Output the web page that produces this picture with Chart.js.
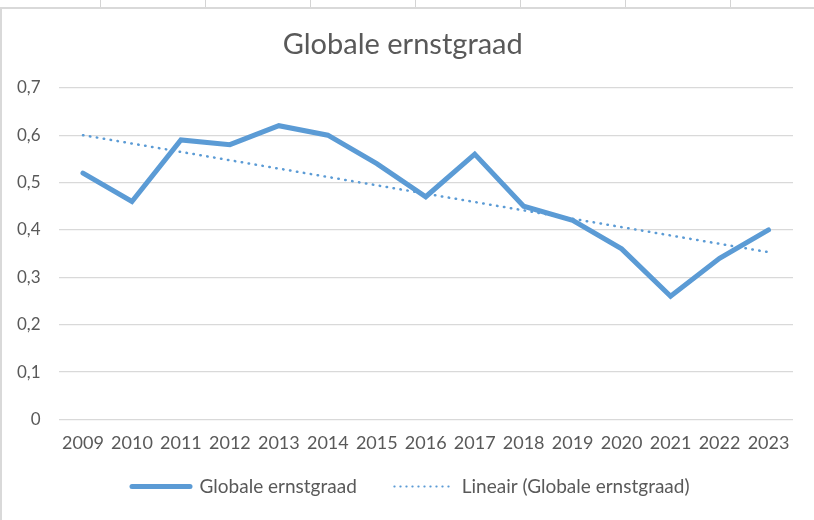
<!DOCTYPE html>
<html>
<head>
<meta charset="utf-8">
<script src="https://cdn.jsdelivr.net/npm/chart.js@4/dist/chart.umd.min.js"></script>
<style>
  html, body { margin: 0; padding: 0; background: #fff; }
  #cells { position: absolute; left: 0; top: 0; width: 814px; height: 8px;
    background: repeating-linear-gradient(90deg, #fff 0, #fff 104px, #d4d4d4 104px, #d4d4d4 105px); background-position: -4px 0; }
  #frame { position: absolute; left: 0; top: 7px; width: 812px; height: 513px;
    border-left: 2px solid #d9d9d9; border-top: 2px solid #d9d9d9; }
</style>
</head>
<body>
<div id="cells"></div>
<div id="frame"><canvas id="ernstgraad_chart" width="812" height="511"></canvas></div>
<script>
// Globale ernstgraad per jaar
const jaren = ['2009', '2010', '2011', '2012', '2013', '2014', '2015', '2016', '2017', '2018', '2019', '2020', '2021', '2022', '2023'];
const ernstgraad = [0.52, 0.46, 0.59, 0.58, 0.62, 0.60, 0.54, 0.47, 0.56, 0.45, 0.42, 0.36, 0.26, 0.34, 0.40];
const trendlijn = [0.60, null, null, null, null, null, null, null, null, null, null, null, null, null, 0.353];

const blauw = '#5b9bd5';
const grijs = '#595959';

// legenda iets naar rechts, zoals in Excel
const legendaVerschuiving = {
    id: 'legendaVerschuiving',
    afterLayout: chart => {
        chart.legend.left += 8;
        chart.legend.right += 8;
    }
};

if (document.getElementById('ernstgraad_chart')){
let ernstgraad_chart = new Chart(document.getElementById('ernstgraad_chart').getContext('2d'), {
    type: 'line',
    data: {
        labels: jaren,
        datasets: [{
            label: 'Globale ernstgraad',
            data: ernstgraad,
            borderColor: blauw,
            backgroundColor: blauw,
            borderWidth: 5,
            borderCapStyle: 'round',
            pointRadius: 0,
            tension: 0
        }, {
            label: 'Lineair (Globale ernstgraad)',
            data: trendlijn,
            borderColor: blauw,
            backgroundColor: blauw,
            borderWidth: 2.5,
            borderDash: [0.5, 6.5],
            borderCapStyle: 'round',
            pointRadius: 0,
            spanGaps: true
        }]
    },
    plugins: [legendaVerschuiving],
    options: {
        responsive: false,
        animation: false,
        layout: { padding: { left: 10.5, right: 21, top: 14, bottom: 14 } },
        plugins: {
            title: {
                display: true,
                text: 'Globale ernstgraad',
                color: grijs,
                font: { family: 'Lato', size: 29, weight: 'normal' },
                padding: { top: 4, bottom: 26 }
            },
            legend: {
                position: 'bottom',
                labels: {
                    color: grijs,
                    font: { family: 'Lato', size: 19 },
                    usePointStyle: true,
                    pointStyle: 'line',
                    pointStyleWidth: 58,
                    padding: 18,
                    // lijnstijl in de legenda zoals in Excel
                    generateLabels: chart => Chart.defaults.plugins.legend.labels.generateLabels(chart).map((item, i) => {
                        const ds = chart.data.datasets[i];
                        item.strokeStyle = ds.borderColor;
                        item.lineCap = 'round';
                        if (i === 0) {
                            item.lineWidth = 5;
                            item.lineDash = [];
                            item.text = item.text + '    ';
                        } else {
                            item.lineWidth = 1.8;
                            item.lineDash = [0.5, 5.5];
                        }
                        return item;
                    })
                }
            },
            tooltip: { enabled: false }
        },
        scales: {
            x: {
                offset: true,
                grid: { display: false },
                border: { display: false },
                ticks: { color: grijs, font: { family: 'Lato', size: 18 }, maxRotation: 0, autoSkip: false, padding: 5 }
            },
            y: {
                min: 0,
                max: 0.7,
                afterFit: scale => { scale.width = 46; },
                grid: { color: '#d9d9d9', lineWidth: 1.3, drawTicks: false },
                border: { display: false },
                ticks: {
                    stepSize: 0.1,
                    color: grijs,
                    font: { family: 'Lato', size: 17 },
                    padding: 18,
                    callback: v => (Math.round(v * 10) / 10).toString().replace('.', ',')
                }
            }
        }
    }
});
}
</script>
</body>
</html>
